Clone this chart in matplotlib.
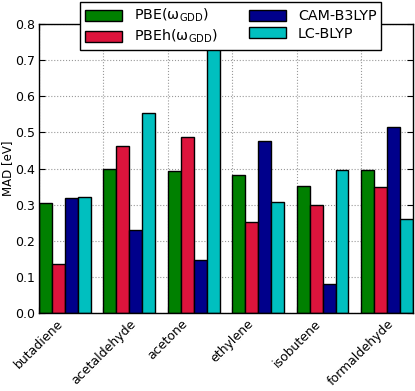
import matplotlib
matplotlib.use("Agg")
import matplotlib.pyplot as plt
import numpy as np

molecules = ["butadiene", "acetaldehyde", "acetone", "ethylene", "isobutene", "formaldehyde"]
series_names = [r"PBE($\omega_{\rm GDD}$)", r"PBEh($\omega_{\rm GDD}$)", "CAM-B3LYP", "LC-BLYP"]
pbe = [0.305, 0.400, 0.392, 0.381, 0.352, 0.395]
pbeh = [0.135, 0.463, 0.488, 0.251, 0.299, 0.348]
camb3lyp = [0.319, 0.229, 0.147, 0.477, 0.080, 0.516]
lcblyp = [0.322, 0.553, 0.830, 0.308, 0.396, 0.259]
colors = ["#008000", "#DC143C", "#00008B", "#00BFBF"]
yticks = [0.0, 0.1, 0.2, 0.3, 0.4, 0.5, 0.6, 0.7, 0.8]

plt.rcParams['font.family'] = ['DejaVu Sans']
plt.rcParams['mathtext.default'] = 'regular'

fig = plt.figure(figsize=(4.15, 3.91), dpi=100)
ax = fig.add_axes([0.094, 0.1995, 0.901, 0.7391])

x = np.arange(len(molecules))
w = 0.2
for k, (vals, c, name) in enumerate(zip([pbe, pbeh, camb3lyp, lcblyp], colors, series_names)):
    ax.bar(x + k * w, vals, width=w, align='edge', color=c, edgecolor='black',
           linewidth=1.0, label=name, zorder=2)

ax.set_xlim(0, 5.8)
ax.set_ylim(0, 0.8)
ax.set_yticks(yticks)
ax.set_yticklabels([f"{t:.1f}" for t in yticks], fontsize=9)
ax.set_xticks(x)
ax.set_xticklabels(molecules, rotation=45, ha='center', fontsize=9)
ax.set_ylabel("MAD [eV]", fontsize=8.5)
ax.yaxis.set_label_coords(-0.068, 0.5)
ax.grid(True, linestyle=':', color='#999999', linewidth=0.8, zorder=0)
ax.set_axisbelow(True)
ax.tick_params(direction='in', length=4, top=True, right=True, pad=3)
for s in ax.spines.values():
    s.set_linewidth(1.0)

leg = ax.legend(loc='upper center', bbox_to_anchor=(0.513, 1.076), ncol=2, fontsize=10.3,
                fancybox=False, framealpha=1, edgecolor='black', handlelength=2.6,
                handleheight=0.8, columnspacing=2.2, borderpad=0.35, labelspacing=0.25,
                borderaxespad=0)
leg.get_frame().set_linewidth(1.0)

fig.savefig("out.png", dpi=100)
